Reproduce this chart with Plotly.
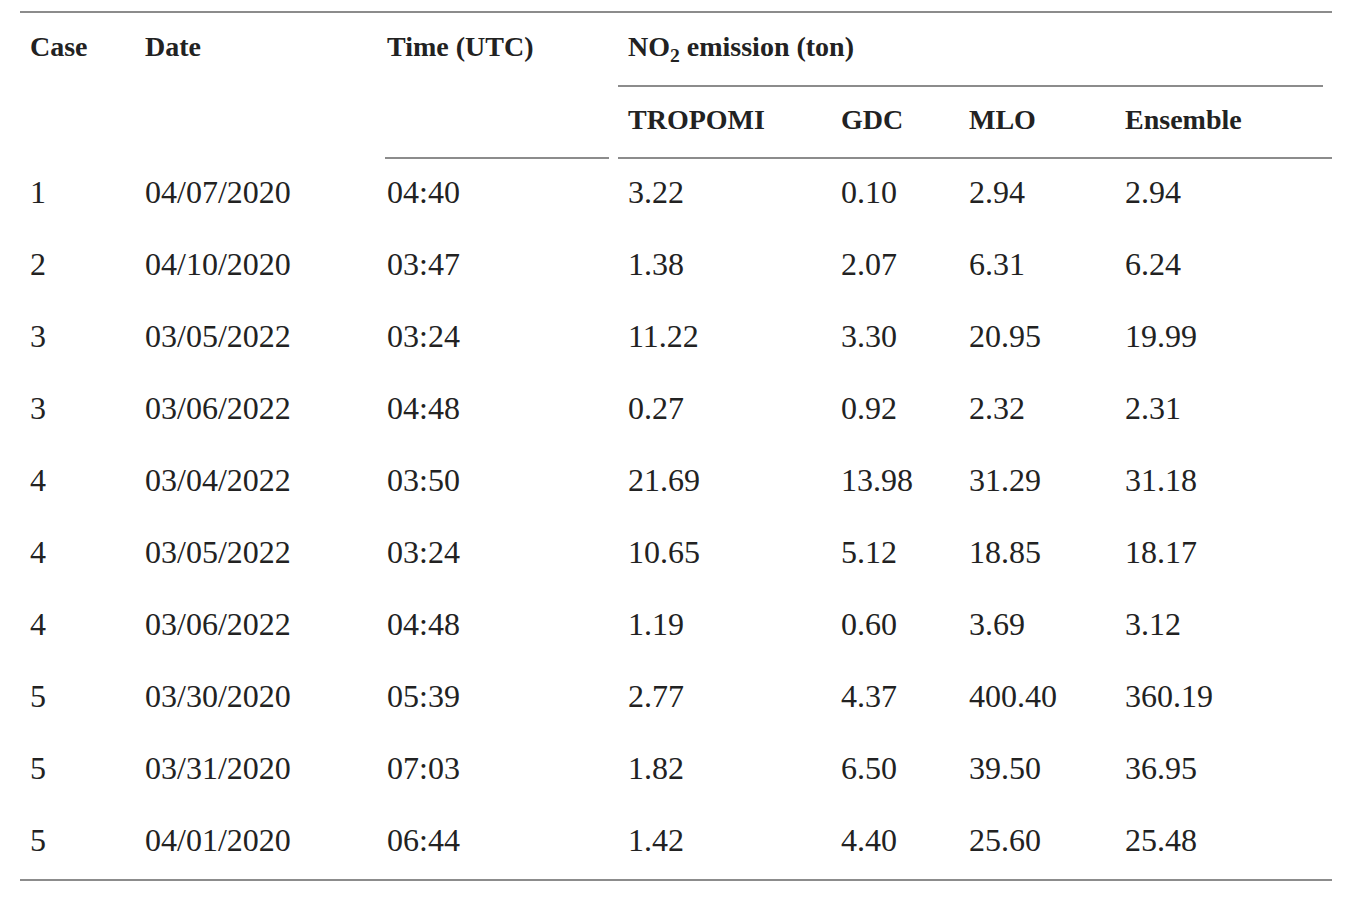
import plotly.graph_objects as go

# table contents
cases = ["1", "2", "3", "3", "4", "4", "4", "5", "5", "5"]
dates = ["04/07/2020", "04/10/2020", "03/05/2022", "03/06/2022", "03/04/2022",
         "03/05/2022", "03/06/2022", "03/30/2020", "03/31/2020", "04/01/2020"]
times = ["04:40", "03:47", "03:24", "04:48", "03:50",
         "03:24", "04:48", "05:39", "07:03", "06:44"]
tropomi = [3.22, 1.38, 11.22, 0.27, 21.69, 10.65, 1.19, 2.77, 1.82, 1.42]
gdc = [0.10, 2.07, 3.30, 0.92, 13.98, 5.12, 0.60, 4.37, 6.50, 4.40]
mlo = [2.94, 6.31, 20.95, 2.32, 31.29, 18.85, 3.69, 400.40, 39.50, 25.60]
ensemble = [2.94, 6.24, 19.99, 2.31, 31.18, 18.17, 3.12, 360.19, 36.95, 25.48]

top_headers = ["Case", "Date", "Time (UTC)", "NO<sub>2</sub> emission (ton)"]
sub_headers = ["TROPOMI", "GDC", "MLO", "Ensemble"]

# layout (pixel-like coordinates on the axes; page body has an 8px margin)
W, H = 1354, 898
OFF = 8
col_x = [30, 145, 387, 628, 841, 969, 1125]
row_y0, row_step = 195, 72
head_y1, head_y2 = 49, 122

TEXT = "#222222"
RULE = "#8c8c8c"
BODY_FONT = dict(family="Liberation Serif", size=32, color=TEXT)
HEAD_FONT = dict(family="Liberation Serif", size=28, color=TEXT)

fig = go.Figure()

rows_y = [row_y0 + row_step * i for i in range(len(cases))]
columns = [
    cases, dates, times,
    [f"{v:.2f}" for v in tropomi],
    [f"{v:.2f}" for v in gdc],
    [f"{v:.2f}" for v in mlo],
    [f"{v:.2f}" for v in ensemble],
]
for x, col in zip(col_x, columns):
    fig.add_trace(go.Scatter(
        x=[x] * len(col), y=rows_y, text=col, mode="text",
        textposition="middle right", textfont=BODY_FONT,
        hoverinfo="skip", showlegend=False))

fig.add_trace(go.Scatter(
    x=col_x[:4], y=[head_y1] * len(top_headers),
    text=[f"<b>{t}</b>" for t in top_headers], mode="text",
    textposition="middle right", textfont=HEAD_FONT,
    hoverinfo="skip", showlegend=False))
fig.add_trace(go.Scatter(
    x=col_x[3:], y=[head_y2] * len(sub_headers),
    text=[f"<b>{t}</b>" for t in sub_headers], mode="text",
    textposition="middle right", textfont=HEAD_FONT,
    hoverinfo="skip", showlegend=False))

# horizontal rules
rules = [
    (20, 1332, 12),
    (618, 1323, 86),
    (385, 609, 158),
    (618, 1332, 158),
    (20, 1332, 880),
]
for x0, x1, y in rules:
    fig.add_shape(type="line", x0=x0, x1=x1, y0=y, y1=y,
                  xref="x", yref="y", line=dict(color=RULE, width=2))

fig.update_layout(
    width=W, height=H,
    margin=dict(l=0, r=0, t=0, b=0),
    paper_bgcolor="white", plot_bgcolor="white",
    xaxis=dict(range=[OFF, W + OFF], visible=False, fixedrange=True),
    yaxis=dict(range=[H + OFF, OFF], visible=False, fixedrange=True),
)

fig.write_html("out.html")
